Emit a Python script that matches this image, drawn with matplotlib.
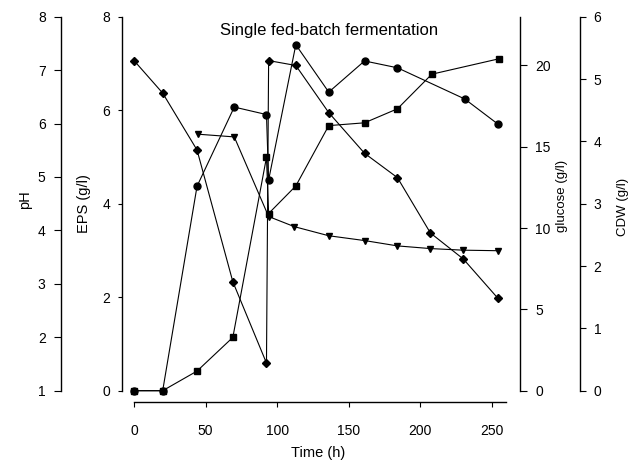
import matplotlib.pyplot as plt

plt.rcParams['font.family'] = ['Liberation Sans', 'DejaVu Sans']

# values, one series per axis
time_eps = [0, 20, 44, 69, 92.5, 94, 113, 136, 161, 184, 208, 255]
eps = [0, 0, 0.42, 1.14, 4.99, 3.79, 4.38, 5.67, 5.73, 6.03, 6.77, 7.10]

time_glucose = [0, 20, 44, 69, 92.5, 94, 113, 136, 161, 184, 207, 230, 254]
glucose = [20.3, 18.3, 14.8, 6.7, 1.7, 20.3, 20.0, 17.1, 14.6, 13.1, 9.7, 8.1, 5.7]

time_cdw = [0, 20, 44, 70, 92.5, 94, 113, 136, 161, 184, 231, 254]
cdw = [0, 0, 3.28, 4.55, 4.43, 3.38, 5.55, 4.79, 5.29, 5.18, 4.68, 4.28]

time_ph = [45, 70, 94, 112, 136, 161, 184, 207, 230, 254]
ph = [5.80, 5.75, 4.26, 4.07, 3.90, 3.81, 3.71, 3.66, 3.63, 3.62]

x_ticks = [0, 50, 100, 150, 200, 250]

fig = plt.figure(figsize=(6.3, 4.61), dpi=100)
ax = fig.add_axes([0.1937, 0.1525, 0.6317, 0.8113])
ax_ph = ax.twinx()
ax_glu = ax.twinx()
ax_cdw = ax.twinx()

line_kw = dict(color='black', lw=0.8, clip_on=False, markerfacecolor='black',
               markeredgecolor='black')
ax.plot(time_eps, eps, marker='s', ms=4.5, **line_kw)
ax_glu.plot(time_glucose, glucose, marker='D', ms=4.5, **line_kw)
ax_cdw.plot(time_cdw, cdw, marker='o', ms=5, **line_kw)
ax_ph.plot(time_ph, ph, marker='v', ms=5, **line_kw)

ax.set_xlim(-8.4, 269.6)
ax.set_ylim(0, 8)
ax_ph.set_ylim(1, 8)
ax_glu.set_ylim(0, 23)
ax_cdw.set_ylim(0, 6)

for a in (ax, ax_ph, ax_glu, ax_cdw):
    for s in a.spines.values():
        s.set_visible(False)
        s.set_linewidth(1.0)

# main axis: EPS on the left, time below
ax.spines['left'].set_visible(True)
ax.spines['bottom'].set_visible(True)
ax.spines['bottom'].set_position(('outward', 8.4))
ax.spines['bottom'].set_bounds(0, 260)
ax.set_xticks(x_ticks)
ax.set_yticks([0, 2, 4, 6, 8])
ax.tick_params(axis='x', direction='out', length=3.5, pad=12, labelsize=10)
ax.tick_params(axis='y', direction='out', length=3, pad=5.5, labelsize=10)
ax.set_xlabel('Time (h)', fontsize=10.5)
ax.xaxis.set_label_coords(0.4925, -0.148)
ax.set_ylabel('EPS (g/l)', fontsize=10.5)
ax.yaxis.set_label_coords(-0.078, 0.5)

# pH on an outer left axis
ax_ph.yaxis.set_ticks_position('left')
ax_ph.yaxis.set_label_position('left')
ax_ph.spines['left'].set_visible(True)
ax_ph.spines['left'].set_position(('outward', 44))
ax_ph.set_yticks(range(1, 9))
ax_ph.tick_params(axis='y', direction='out', length=5, pad=6, labelsize=10)
ax_ph.set_ylabel('pH', fontsize=10.5)
ax_ph.yaxis.set_label_coords(-0.225, 0.51)

# glucose on the right
ax_glu.spines['right'].set_visible(True)
ax_glu.set_yticks([0, 5, 10, 15, 20])
ax_glu.tick_params(axis='y', direction='out', length=5, pad=5.8, labelsize=10)
ax_glu.set_ylabel('glucose (g/l)', fontsize=9.5)
ax_glu.yaxis.set_label_coords(1.09, 0.52)

# CDW on an outer right axis
ax_cdw.spines['right'].set_visible(True)
ax_cdw.spines['right'].set_position(('outward', 43.2))
ax_cdw.set_yticks(range(0, 7))
ax_cdw.tick_params(axis='y', direction='out', length=4, pad=5.8, labelsize=10)
ax_cdw.set_ylabel('CDW (g/l)', fontsize=9.5)
ax_cdw.yaxis.set_label_coords(1.244, 0.49)

for a in (ax_ph, ax_glu, ax_cdw):
    a.tick_params(axis='x', which='both', bottom=False, labelbottom=False)

ax.text(0.52, 0.962, 'Single fed-batch fermentation', transform=ax.transAxes,
        ha='center', va='center', fontsize=12)

fig.savefig('out.png', dpi=100)
